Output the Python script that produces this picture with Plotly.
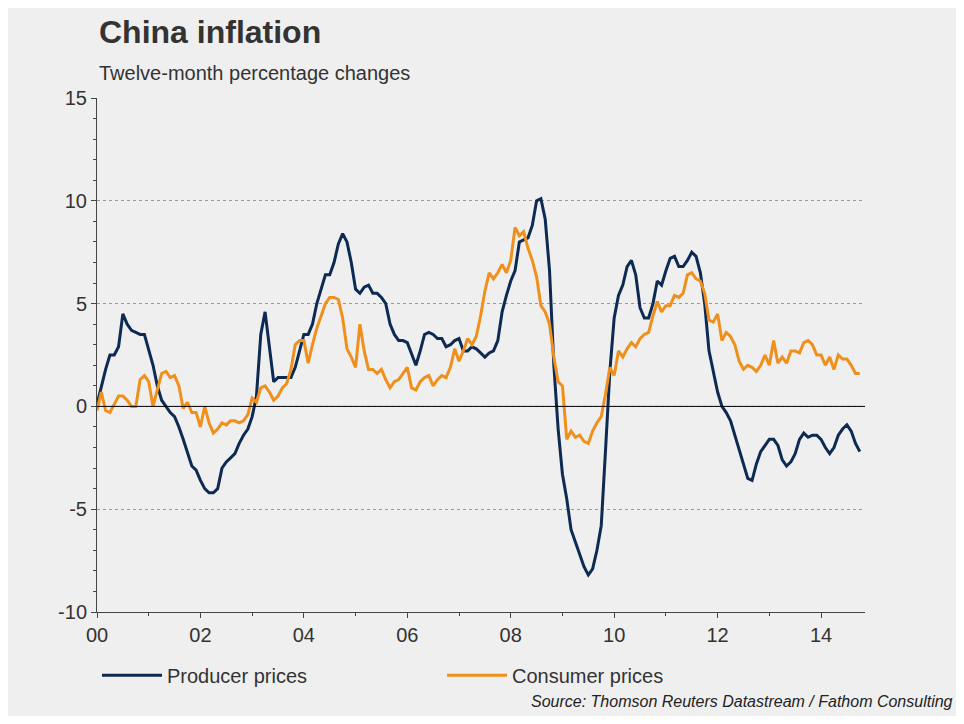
import plotly.graph_objects as go

ppi_by_year = [
 [0.1,1.0,1.8,2.5,2.5,2.9,4.5,4.0,3.7,3.6,3.5,3.5],
 [2.8,2.0,1.0,0.3,0.0,-0.3,-0.5,-1.0,-1.6,-2.2,-2.9,-3.1],
 [-3.6,-4.0,-4.2,-4.2,-4.0,-3.0,-2.7,-2.5,-2.3,-1.8,-1.4,-1.1],
 [-0.5,0.5,3.5,4.6,3.0,1.2,1.4,1.4,1.4,1.4,1.9,2.7],
 [3.5,3.5,4.0,5.0,5.7,6.4,6.4,7.0,7.9,8.4,8.0,7.0],
 [5.7,5.5,5.8,5.9,5.5,5.5,5.3,5.0,4.0,3.5,3.2,3.2],
 [3.1,2.5,2.0,2.7,3.5,3.6,3.5,3.3,3.3,2.9,3.0,3.2],
 [3.3,2.7,2.7,2.9,2.8,2.6,2.4,2.6,2.7,3.2,4.6,5.4],
 [6.1,6.6,8.0,8.1,8.2,8.8,10.0,10.1,9.1,6.6,2.0,-1.1],
 [-3.3,-4.5,-6.0,-6.6,-7.2,-7.8,-8.2,-7.9,-7.0,-5.8,-2.1,1.7],
 [4.3,5.4,5.9,6.8,7.1,6.4,4.8,4.3,4.3,5.0,6.1,5.9],
 [6.6,7.2,7.3,6.8,6.8,7.1,7.5,7.3,6.5,5.0,2.7,1.7],
 [0.7,0.0,-0.3,-0.7,-1.4,-2.1,-2.9,-3.5,-3.6,-2.8,-2.2,-1.9],
 [-1.6,-1.6,-1.9,-2.6,-2.9,-2.7,-2.3,-1.6,-1.3,-1.5,-1.4,-1.4],
 [-1.6,-2.0,-2.3,-2.0,-1.4,-1.1,-0.9,-1.2,-1.8,-2.2],
]
cpi_by_year = [
 [-0.2,0.7,-0.2,-0.3,0.1,0.5,0.5,0.3,0.0,0.0,1.3,1.5],
 [1.2,0.0,0.8,1.6,1.7,1.4,1.5,1.0,-0.1,0.2,-0.3,-0.3],
 [-1.0,0.0,-0.8,-1.3,-1.1,-0.8,-0.9,-0.7,-0.7,-0.8,-0.7,-0.4],
 [0.4,0.2,0.9,1.0,0.7,0.3,0.5,0.9,1.1,1.8,3.0,3.2],
 [3.2,2.1,3.0,3.8,4.4,5.0,5.3,5.3,5.2,4.3,2.8,2.4],
 [1.9,4.0,2.7,1.8,1.8,1.6,1.8,1.3,0.9,1.2,1.3,1.6],
 [1.9,0.9,0.8,1.2,1.4,1.5,1.0,1.3,1.5,1.4,1.9,2.8],
 [2.2,2.7,3.3,3.0,3.4,4.4,5.6,6.5,6.2,6.5,6.9,6.5],
 [7.1,8.7,8.3,8.5,7.7,7.1,6.3,4.9,4.6,4.0,2.4,1.2],
 [1.0,-1.6,-1.2,-1.5,-1.4,-1.7,-1.8,-1.2,-0.8,-0.5,0.6,1.9],
 [1.5,2.7,2.4,2.8,3.1,2.9,3.3,3.5,3.6,4.4,5.1,4.6],
 [4.9,4.9,5.4,5.3,5.5,6.4,6.5,6.2,6.1,5.5,4.2,4.1],
 [4.5,3.2,3.6,3.4,3.0,2.2,1.8,2.0,1.9,1.7,2.0,2.5],
 [2.0,3.2,2.1,2.4,2.1,2.7,2.7,2.6,3.1,3.2,3.0,2.5],
 [2.5,2.0,2.4,1.8,2.5,2.3,2.3,2.0,1.6,1.6],
]
start_year = 2000
tick_vals = [2000,2002,2004,2006,2008,2010,2012,2014]
tick_text = ["00","02","04","06","08","10","12","14"]
y_tick_vals = [-10,-5,0,5,10,15]
y_tick_text = ["-10","-5","0","5","10","15"]

def flatten(by_year):
    xs, ys = [], []
    for i, row in enumerate(by_year):
        for m, v in enumerate(row):
            xs.append(start_year + i + m/12)
            ys.append(v)
    return xs, ys

px, py = flatten(ppi_by_year)
cx, cy = flatten(cpi_by_year)

fig = go.Figure()
fig.add_trace(go.Scatter(x=px, y=py, mode="lines", name="Producer prices",
                         line=dict(color="#0c2a52", width=3)))
fig.add_trace(go.Scatter(x=cx, y=cy, mode="lines", name="Consumer prices",
                         line=dict(color="#f0901c", width=3)))
fig.add_hline(y=0, line=dict(color="black", width=1))

bg = "#efefef"
fig.update_layout(
    width=948, height=708, paper_bgcolor=bg, plot_bgcolor=bg,
    margin=dict(l=89, r=91, t=90, b=104),
    font=dict(family="Liberation Sans, Arial", color="#333", size=20),
    showlegend=True,
    legend=dict(orientation="h", x=0.0, y=-0.085, xanchor="left", yanchor="top",
                font=dict(size=20), itemwidth=60,
                entrywidthmode="pixels", entrywidth=270),
    xaxis=dict(range=[2000, 2014.85], tickvals=tick_vals, ticktext=tick_text,
               showgrid=False, showline=True, linecolor="#444", ticks="outside",
               ticklen=5, tickcolor="#444", zeroline=False,
               minor=dict(dtick=1, ticks="outside", ticklen=3, tickcolor="#444")),
    yaxis=dict(range=[-10, 15], tickvals=y_tick_vals, ticktext=y_tick_text,
               showgrid=True, gridcolor="#999",
               griddash="dot", gridwidth=1, showline=True, linecolor="#444",
               ticks="outside", ticklen=5, tickcolor="#444", zeroline=False,
               minor=dict(dtick=1, ticks="outside", ticklen=3, tickcolor="#444")),
)
fig.add_annotation(text="<b>China inflation</b>", xref="paper", yref="paper",
                   x=0.0, y=1.0, yshift=46, xshift=0, xanchor="left", yanchor="bottom",
                   showarrow=False, font=dict(size=32, color="#333"))
fig.add_annotation(text="Twelve-month percentage changes", xref="paper", yref="paper",
                   x=0.0, y=1.0, yshift=12, xanchor="left", yanchor="bottom",
                   showarrow=False, font=dict(size=20, color="#333"))
fig.add_annotation(text="<i>Source: Thomson Reuters Datastream / Fathom Consulting</i>",
                   xref="paper", yref="paper", x=1.0, xshift=90, y=0, yshift=-100,
                   xanchor="right", yanchor="bottom", showarrow=False,
                   font=dict(size=16, color="#222"))
fig.write_html("out.html")
